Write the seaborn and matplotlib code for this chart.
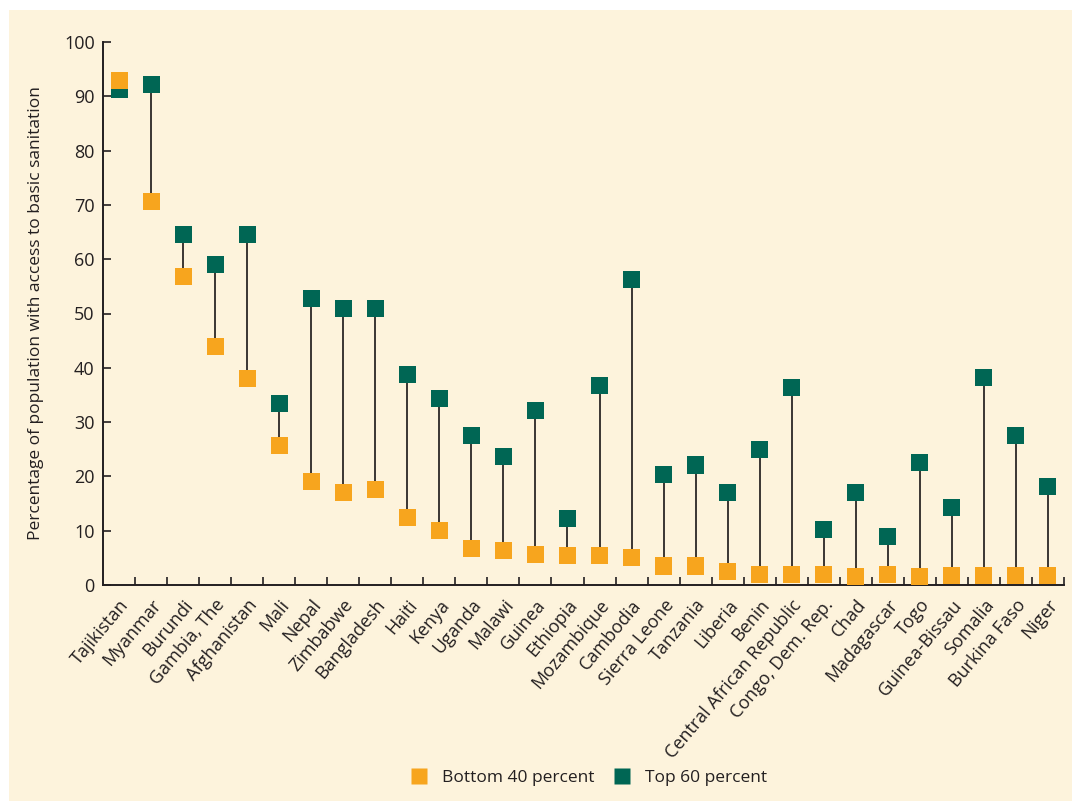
import matplotlib
matplotlib.use("Agg")
import matplotlib.pyplot as plt
import seaborn as sns
import pandas as pd
from matplotlib.patches import Rectangle
from matplotlib.lines import Line2D

countries = ["Tajikistan", "Myanmar", "Burundi", "Gambia, The", "Afghanistan", "Mali",
             "Nepal", "Zimbabwe", "Bangladesh", "Haiti", "Kenya", "Uganda", "Malawi",
             "Guinea", "Ethiopia", "Mozambique", "Cambodia", "Sierra Leone", "Tanzania",
             "Liberia", "Benin", "Central African Republic", "Congo, Dem. Rep.", "Chad",
             "Madagascar", "Togo", "Guinea-Bissau", "Somalia", "Burkina Faso", "Niger"]
bottom40 = [93.0, 70.7, 56.9, 44.0, 38.1, 25.6, 19.0, 17.1, 17.5, 12.5, 10.1, 6.8, 6.3,
            5.7, 5.5, 5.5, 5.0, 3.5, 3.5, 2.4, 2.0, 2.0, 2.0, 1.5, 2.0, 1.5, 1.7, 1.7, 1.7, 1.7]
top60 = [91.2, 92.1, 64.6, 59.1, 64.6, 33.5, 52.7, 51.0, 51.0, 38.7, 34.4, 27.6, 23.6,
         32.2, 12.3, 36.8, 56.2, 20.3, 22.1, 17.1, 24.9, 36.3, 10.3, 17.1, 9.0, 22.5,
         14.2, 38.3, 27.6, 18.2]
yticks = [0, 10, 20, 30, 40, 50, 60, 70, 80, 90, 100]

CREAM = "#fdf3dc"
ORANGE = "#f7a51e"
TEAL = "#006654"
INK = "#231f20"

sns.set_style("ticks")
plt.rcParams["font.family"] = ["Open Sans", "DejaVu Sans"]

fig = plt.figure(figsize=(10.72, 8.01), dpi=100, facecolor="white")
fig.patches.append(Rectangle((9 / 1072, 0), 1 - 9 / 1072, 1 - 10 / 801,
                             transform=fig.transFigure, facecolor=CREAM,
                             edgecolor="none", zorder=-10))
ax = fig.add_axes([103 / 1072, 1 - 585 / 801, (1064 - 103) / 1072, (585 - 42) / 801])
ax.set_facecolor(CREAM)

df = pd.DataFrame({"country": countries, "bottom": bottom40, "top": top60})
df["x"] = range(len(df))

ax.vlines(df["x"], df["bottom"], df["top"], colors="#3a3533", linewidth=1.4, zorder=1)
sns.scatterplot(data=df, x="x", y="top", marker="s", s=150, color=TEAL,
                edgecolor="none", linewidth=0, ax=ax, zorder=3)
sns.scatterplot(data=df, x="x", y="bottom", marker="s", s=150, color=ORANGE,
                edgecolor="none", linewidth=0, ax=ax, zorder=4)

n = len(countries)
ax.set_xlim(-0.5, n - 0.5)
ax.set_ylim(0, 100)
ax.set_yticks(yticks)
ax.set_yticklabels([str(t) for t in yticks], fontsize=13, color=INK)
ax.set_xticks([i + 0.5 for i in range(n)], minor=False)
ax.set_xticklabels([])
ax.set_xticks(range(n), minor=True)
ax.set_xticklabels(countries, minor=True, rotation=50, ha="right",
                   rotation_mode="anchor", fontsize=13, color=INK)
ax.tick_params(axis="x", which="minor", length=0, pad=8)
ax.tick_params(axis="both", which="major", direction="in", length=6, width=1.2, color=INK)
ax.tick_params(axis="y", pad=6)
ax.set_xlabel("")
ax.set_ylabel("Percentage of population with access to basic sanitation",
              fontsize=12.5, color=INK, labelpad=14)
for side in ["top", "right"]:
    ax.spines[side].set_visible(False)
for side in ["left", "bottom"]:
    ax.spines[side].set_color(INK)
    ax.spines[side].set_linewidth(1.4)

handles = [Line2D([], [], marker="s", linestyle="none", markersize=12,
                  markerfacecolor=ORANGE, markeredgecolor="none"),
           Line2D([], [], marker="s", linestyle="none", markersize=12,
                  markerfacecolor=TEAL, markeredgecolor="none")]
fig.legend(handles, ["Bottom 40 percent", "Top 60 percent"], loc="center",
           bbox_to_anchor=(0.545, 1 - 778 / 801), ncol=2, frameon=False,
           fontsize=12.5, handletextpad=0.3, columnspacing=0.6, labelcolor=INK)

fig.savefig("out.png", dpi=100, facecolor="white")
